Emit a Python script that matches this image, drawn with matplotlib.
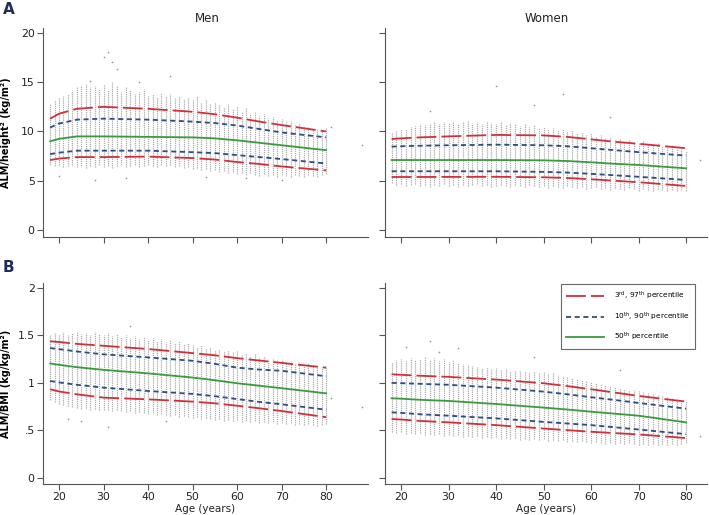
import numpy as np
import matplotlib
matplotlib.use('Agg')
import matplotlib.pyplot as plt
from matplotlib.lines import Line2D

# =============================================================================
# data
# =============================================================================
ages = list(range(18, 81))
curve_ages = [18, 20, 24, 30, 40, 50, 55, 60, 65, 70, 80]

# --- ALM/height^2, men
men_ht_hi = [12.8,13.2,13.5,13.6,13.8,14.2,14.5,14.6,14.8,14.5,
             14.6,14.3,14.8,14.2,15.0,14.6,14.0,14.5,14.2,13.8,
             14.0,14.3,13.6,13.8,13.5,13.9,13.6,13.8,13.4,13.6,
             13.3,13.5,13.2,13.6,13.0,13.3,12.8,13.0,12.8,12.5,
             12.8,12.3,12.6,12.0,12.4,11.8,12.0,11.6,11.8,11.4,
             11.5,11.2,11.3,11.0,11.1,10.8,10.9,10.6,10.5,10.3,
             10.2,10.0,10.4]
men_ht_lo = [6.6,6.5,6.6,6.4,6.5,6.6,6.4,6.5,6.3,6.5,
             6.4,6.6,6.4,6.5,6.3,6.5,6.6,6.4,6.5,6.6,
             6.4,6.5,6.6,6.5,6.4,6.6,6.5,6.6,6.4,6.5,
             6.3,6.4,6.2,6.3,6.1,6.2,6.0,6.1,5.9,6.0,
             5.8,5.9,5.7,5.8,5.6,5.8,5.6,5.5,5.7,5.5,
             5.6,5.4,5.6,5.5,5.4,5.6,5.5,5.4,5.6,5.5,
             5.4,5.6,5.7]
men_ht_out_x = [30, 31, 32, 33, 27, 45, 38, 20, 28, 35, 53, 62, 70, 88, 81]
men_ht_out_y = [17.6, 18.1, 17.1, 16.3, 15.1, 15.6, 15.0, 5.5, 5.1, 5.3, 5.4, 5.3, 5.1, 8.6, 10.5]
men_ht_p3 = [7.1,7.25,7.4,7.4,7.45,7.3,7.15,6.9,6.7,6.45,6.05]
men_ht_p10 = [7.7,7.85,8.05,8.05,8.05,7.9,7.8,7.6,7.4,7.2,6.75]
men_ht_p50 = [9.0,9.25,9.5,9.5,9.45,9.4,9.3,9.1,8.85,8.6,8.1]
men_ht_p90 = [10.4,10.8,11.2,11.3,11.2,11.0,10.85,10.6,10.25,9.9,9.4]
men_ht_p97 = [11.3,11.8,12.3,12.5,12.3,12.0,11.75,11.4,11.0,10.65,10.0]

# --- ALM/height^2, women
wom_ht_hi = [9.8,10.0,10.2,10.3,10.5,10.6,10.8,10.7,10.9,11.0,
             10.8,11.0,10.9,11.1,10.8,11.0,11.2,10.9,11.0,10.8,
             11.1,10.9,10.8,11.0,10.7,10.9,10.8,10.6,10.8,10.5,
             10.7,10.4,10.5,10.2,10.4,10.1,10.2,10.0,10.1,9.8,
             9.9,9.6,9.8,9.5,9.6,9.3,9.4,9.2,9.3,9.0,
             9.1,8.9,8.8,9.0,8.7,8.6,8.8,8.5,8.4,8.6,
             8.3,8.2,8.0]
wom_ht_lo = [4.8,4.6,4.7,4.5,4.6,4.7,4.5,4.6,4.4,4.6,
             4.5,4.7,4.5,4.6,4.4,4.6,4.5,4.6,4.7,4.5,
             4.6,4.4,4.5,4.6,4.5,4.4,4.6,4.5,4.4,4.6,
             4.5,4.4,4.5,4.3,4.5,4.4,4.3,4.5,4.4,4.3,
             4.4,4.2,4.3,4.4,4.2,4.3,4.1,4.3,4.2,4.1,
             4.3,4.2,4.0,4.2,4.1,4.0,4.2,4.1,4.0,4.1,
             4.0,4.1,4.0]
wom_ht_out_x = [26, 40, 48, 54, 64, 83]
wom_ht_out_y = [12.1, 14.6, 12.7, 13.8, 11.5, 7.1]
wom_ht_p3 = [5.38,5.38,5.38,5.39,5.4,5.35,5.28,5.15,5.0,4.85,4.47]
wom_ht_p10 = [5.96,5.96,5.96,5.96,5.96,5.9,5.83,5.7,5.55,5.4,5.08]
wom_ht_p50 = [7.1,7.1,7.1,7.1,7.1,7.07,7.0,6.87,6.72,6.6,6.26]
wom_ht_p90 = [8.46,8.5,8.55,8.6,8.66,8.6,8.5,8.3,8.1,7.9,7.55]
wom_ht_p97 = [9.24,9.3,9.4,9.5,9.65,9.6,9.45,9.2,8.95,8.75,8.3]

# --- ALM/BMI, men
men_bmi_hi = [1.50,1.52,1.51,1.53,1.50,1.52,1.53,1.51,1.52,1.50,
              1.53,1.51,1.50,1.52,1.49,1.51,1.48,1.50,1.47,1.49,
              1.46,1.48,1.45,1.47,1.44,1.46,1.43,1.45,1.42,1.44,
              1.41,1.42,1.40,1.38,1.40,1.37,1.38,1.35,1.36,1.33,
              1.35,1.32,1.33,1.30,1.31,1.28,1.30,1.27,1.28,1.25,
              1.26,1.24,1.25,1.22,1.23,1.21,1.22,1.20,1.21,1.19,
              1.18,1.17,1.18]
men_bmi_lo = [0.82,0.80,0.78,0.77,0.76,0.75,0.74,0.73,0.74,0.72,
              0.73,0.72,0.71,0.72,0.70,0.71,0.70,0.69,0.70,0.68,
              0.69,0.68,0.67,0.68,0.66,0.67,0.66,0.65,0.66,0.64,
              0.65,0.64,0.63,0.64,0.62,0.63,0.62,0.61,0.62,0.60,
              0.61,0.60,0.61,0.59,0.60,0.59,0.60,0.58,0.59,0.58,
              0.59,0.57,0.58,0.57,0.58,0.56,0.57,0.56,0.57,0.56,
              0.55,0.56,0.57]
men_bmi_out_x = [36, 31, 22, 25, 44, 88, 81]
men_bmi_out_y = [1.6, 0.54, 0.62, 0.6, 0.6, 0.75, 0.84]
men_bmi_p3 = [0.933,0.91,0.88,0.845,0.827,0.803,0.785,0.76,0.733,0.704,0.64]
men_bmi_p10 = [1.02,1.005,0.98,0.95,0.915,0.884,0.86,0.83,0.80,0.775,0.718]
men_bmi_p50 = [1.204,1.19,1.165,1.137,1.10,1.056,1.028,0.996,0.97,0.944,0.89]
men_bmi_p90 = [1.366,1.355,1.33,1.30,1.268,1.232,1.20,1.16,1.14,1.127,1.07]
men_bmi_p97 = [1.437,1.43,1.41,1.39,1.356,1.313,1.29,1.26,1.235,1.21,1.16]

# --- ALM/BMI, women
wom_bmi_hi = [1.22,1.24,1.25,1.23,1.26,1.24,1.25,1.27,1.24,1.26,
              1.23,1.25,1.22,1.24,1.21,1.20,1.19,1.18,1.17,1.16,
              1.17,1.15,1.16,1.14,1.15,1.13,1.14,1.12,1.13,1.11,
              1.12,1.10,1.11,1.09,1.10,1.08,1.07,1.06,1.05,1.04,
              1.03,1.02,1.01,1.00,0.99,0.98,0.97,0.96,0.95,0.94,
              0.93,0.92,0.91,0.90,0.89,0.88,0.87,0.86,0.85,0.84,
              0.83,0.82,0.81]
wom_bmi_lo = [0.48,0.47,0.48,0.46,0.47,0.46,0.47,0.45,0.46,0.45,
              0.46,0.44,0.45,0.44,0.45,0.43,0.44,0.43,0.44,0.42,
              0.43,0.42,0.43,0.41,0.42,0.41,0.42,0.40,0.41,0.40,
              0.41,0.40,0.41,0.39,0.40,0.39,0.40,0.38,0.39,0.38,
              0.39,0.38,0.37,0.38,0.37,0.36,0.37,0.36,0.37,0.36,
              0.37,0.36,0.35,0.36,0.35,0.36,0.35,0.36,0.35,0.36,
              0.35,0.36,0.37]
wom_bmi_out_x = [21, 26, 28, 32, 48, 66, 83]
wom_bmi_out_y = [1.38, 1.44, 1.32, 1.37, 1.27, 1.14, 0.44]
wom_bmi_p3 = [0.62,0.615,0.60,0.585,0.556,0.52,0.503,0.486,0.472,0.458,0.42]
wom_bmi_p10 = [0.69,0.685,0.67,0.655,0.627,0.59,0.573,0.556,0.533,0.51,0.461]
wom_bmi_p50 = [0.838,0.834,0.822,0.81,0.778,0.74,0.72,0.697,0.676,0.655,0.585]
wom_bmi_p90 = [1.0,0.997,0.99,0.98,0.95,0.908,0.88,0.849,0.82,0.789,0.729]
wom_bmi_p97 = [1.09,1.085,1.075,1.063,1.035,0.996,0.966,0.933,0.898,0.863,0.803]

# =============================================================================
# styles
# =============================================================================
RED = '#d0303c'
BLUE = '#2b4f80'
GREEN = '#3c9a3e'
DOT = '#adadad'
AX = '#555555'
TXT = '#222222'

W, H = 709, 515
fig = plt.figure(figsize=(W/100, H/100), dpi=100)

def px_axes(x0, x1, ytop, ybot):
    return fig.add_axes([x0/W, 1-ybot/H, (x1-x0)/W, (ybot-ytop)/H])

ax_tl = px_axes(43, 368, 28, 237)
ax_tr = px_axes(385, 707, 28, 237)
ax_bl = px_axes(43, 368, 283, 484)
ax_br = px_axes(385, 707, 283, 484)

panels = [
    (ax_tl, men_ht_lo, men_ht_hi, men_ht_out_x, men_ht_out_y,
     [men_ht_p3, men_ht_p10, men_ht_p50, men_ht_p90, men_ht_p97], (16.4, 89.4)),
    (ax_tr, wom_ht_lo, wom_ht_hi, wom_ht_out_x, wom_ht_out_y,
     [wom_ht_p3, wom_ht_p10, wom_ht_p50, wom_ht_p90, wom_ht_p97], (16.6, 84.4)),
    (ax_bl, men_bmi_lo, men_bmi_hi, men_bmi_out_x, men_bmi_out_y,
     [men_bmi_p3, men_bmi_p10, men_bmi_p50, men_bmi_p90, men_bmi_p97], (16.4, 89.4)),
    (ax_br, wom_bmi_lo, wom_bmi_hi, wom_bmi_out_x, wom_bmi_out_y,
     [wom_bmi_p3, wom_bmi_p10, wom_bmi_p50, wom_bmi_p90, wom_bmi_p97], (16.6, 84.4)),
]

for ax, lo, hi, ox, oy, pcts, xl in panels:
    # columns of individual points
    ax.vlines(ages, lo, hi, colors=DOT, linewidth=0.9, linestyles=(0, (1.0, 0.7)))
    ax.scatter(ox, oy, s=1.5, color='#999999', linewidths=0)
    p3, p10, p50, p90, p97 = pcts
    for p in (p3, p97):
        ax.plot(curve_ages, p, color=RED, lw=1.3, dashes=(11, 2.8))
    for p in (p10, p90):
        ax.plot(curve_ages, p, color=BLUE, lw=1.3, dashes=(2.8, 2.0))
    ax.plot(curve_ages, p50, color=GREEN, lw=1.3)

    ax.set_xlim(*xl)
    ax.set_xticks([20, 30, 40, 50, 60, 70, 80])
    for s in ['top', 'right']:
        ax.spines[s].set_visible(False)
    for s in ['left', 'bottom']:
        ax.spines[s].set_color(AX)
        ax.spines[s].set_linewidth(0.8)
    ax.tick_params(colors=AX, labelcolor=TXT, labelsize=7.8, length=4, width=0.8, pad=2)

for ax in (ax_tl, ax_tr):
    ax.set_ylim(-0.71, 20.5)
    ax.set_yticks([0, 5, 10, 15, 20])
    ax.tick_params(labelbottom=False)
for ax in (ax_bl, ax_br):
    ax.set_ylim(-0.063, 2.05)
    ax.set_yticks([0, 0.5, 1, 1.5, 2])
    ax.set_yticklabels(['0', '.5', '1', '1.5', '2'])
    ax.set_xlabel('Age (years)', fontsize=7.5, color=TXT, labelpad=1)
for ax in (ax_tr, ax_br):
    ax.tick_params(labelleft=False)

ax_tl.set_ylabel('ALM/height² (kg/m²)', fontsize=7, fontweight='bold')
ax_bl.set_ylabel('ALM/BMI (kg/kg/m²)', fontsize=7, fontweight='bold')
ax_tl.yaxis.set_label_coords((11-43)/325, 0.5)
ax_bl.yaxis.set_label_coords((11-43)/325, 0.5)

fig.text(207/W, 1-18/H, 'Men', ha='center', va='center', fontsize=8.5, color=TXT)
fig.text(547/W, 1-18/H, 'Women', ha='center', va='center', fontsize=8.5, color=TXT)
fig.text(3/W, 1-10/H, 'A', ha='left', va='center', fontsize=11, fontweight='bold', color='#1f2d5a')
fig.text(3/W, 1-268/H, 'B', ha='left', va='center', fontsize=11, fontweight='bold', color='#1f2d5a')

handles = [
    Line2D([], [], color=RED, lw=1.3, dashes=(11, 2.8)),
    Line2D([], [], color=BLUE, lw=1.3, dashes=(2.8, 2.0)),
    Line2D([], [], color=GREEN, lw=1.3),
]
labels = [r'3$^{\rm rd}$, 97$^{\rm th}$ percentile',
          r'10$^{\rm th}$, 90$^{\rm th}$ percentile',
          r'50$^{\rm th}$ percentile']
leg = ax_br.legend(handles, labels, loc='upper right', bbox_to_anchor=(695/W, 1-284/H),
                   bbox_transform=fig.transFigure, fontsize=5.3, frameon=True,
                   fancybox=False, edgecolor='#444444', handlelength=5.2,
                   labelspacing=1.15, borderpad=0.75, handletextpad=1.3,
                   borderaxespad=0)
leg.get_frame().set_linewidth(0.8)

fig.savefig('out.png', dpi=100)
